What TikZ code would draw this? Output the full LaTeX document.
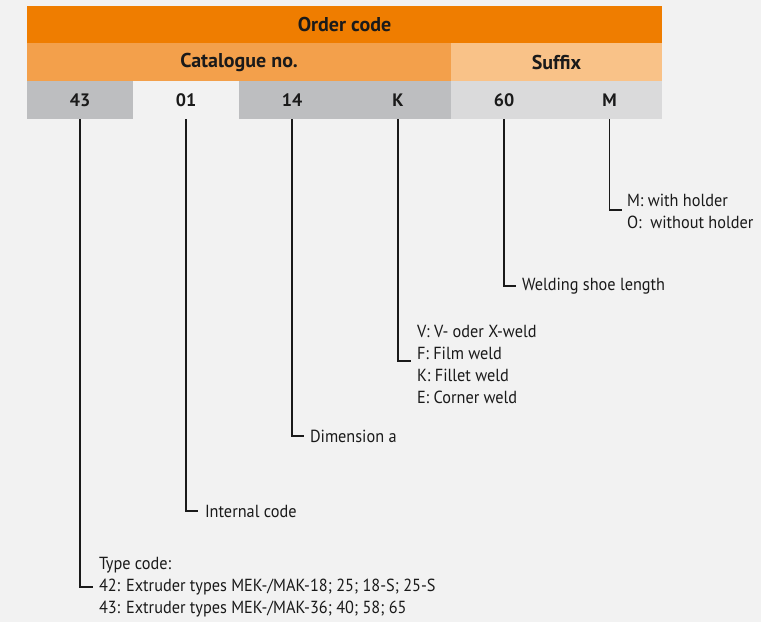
\documentclass[tikz,border=0pt]{standalone}
\usepackage{fontspec}
\setmainfont{PT Sans}
\newfontfamily\lblfont[FakeStretch=0.93]{PT Sans}
\definecolor{bg}{HTML}{F2F2F2}
\definecolor{ordc}{HTML}{EF7D00}
\definecolor{catc}{HTML}{F3A04B}
\definecolor{sufc}{HTML}{F9C288}
\definecolor{darkg}{HTML}{BDBEC0}
\definecolor{lightg}{HTML}{DADADB}
\definecolor{ink}{HTML}{1A1A1A}
\begin{document}
\begin{tikzpicture}[x=1pt,y=-1pt,
  cell/.style={inner sep=0pt,outer sep=0pt,minimum height=38pt,text=ink,font=\fontsize{18}{20}\selectfont\bfseries},
  head/.style={cell,font=\fontsize{20}{22}\selectfont\bfseries},
  lbl/.style={inner sep=0pt,outer sep=0pt,anchor=west,align=left,text=ink,font=\lblfont\fontsize{17.5}{22}\selectfont},
  conn/.style={draw=ink,line width=1.4pt}]
\fill[bg] (0,0) rectangle (761,622);
\useasboundingbox (0,0) rectangle (761,622);
% header rows
\node[head,fill=ordc,minimum width=635pt,minimum height=37pt] (order) at (344.5,24.5) {Order code};
\node[head,fill=catc,minimum width=424pt] (cat) at (239,62) {Catalogue no.};
\node[head,fill=sufc,minimum width=211pt] (suf) at (556.5,62) {Suffix};
% code cells
\node[cell,fill=darkg,minimum width=106pt] (c43) at (80,100) {43};
\node[cell,fill=bg,minimum width=106pt] (c01) at (186,100) {01};
\node[cell,fill=darkg,minimum width=106pt] (c14) at (292,100) {14};
\node[cell,fill=darkg,minimum width=106pt] (cK) at (398,100) {K};
\node[cell,fill=lightg,minimum width=106pt] (c60) at (504,100) {60};
\node[cell,fill=lightg,minimum width=105pt] (cM) at (609.5,100) {M};
% corners
\coordinate (kM) at (622,210);
\coordinate (k60) at (516,286);
\coordinate (kK) at (411,361);
\coordinate (k14) at (304,436);
\coordinate (k01) at (198,511);
\coordinate (k43) at (93,587);
% labels
\node[lbl] (tM) at (627,211) {M: with holder\\O:\ \ without holder};
\node[lbl] (t60) at (522,286) {Welding shoe length};
\node[lbl] (tK) at (417,364) {V: V- oder X-weld\\F: Film weld\\K: Fillet weld\\E: Corner weld};
\node[lbl] (t14) at (310,436) {Dimension a};
\node[lbl] (t01) at (205,511) {Internal code};
\node[lbl] (t43) at (99,587) {Type code:\\42: Extruder types MEK-/MAK-18; 25; 18-S; 25-S\\43: Extruder types MEK-/MAK-36; 40; 58; 65};
% connectors
\draw[conn] (cM.south) |- (kM);
\draw[conn] (c60.south) |- (k60);
\draw[conn] (cK.south) |- (kK);
\draw[conn] (c14.south) |- (k14);
\draw[conn] (c01.south) |- (k01);
\draw[conn] (c43.south) |- (k43);
\end{tikzpicture}
\end{document}
